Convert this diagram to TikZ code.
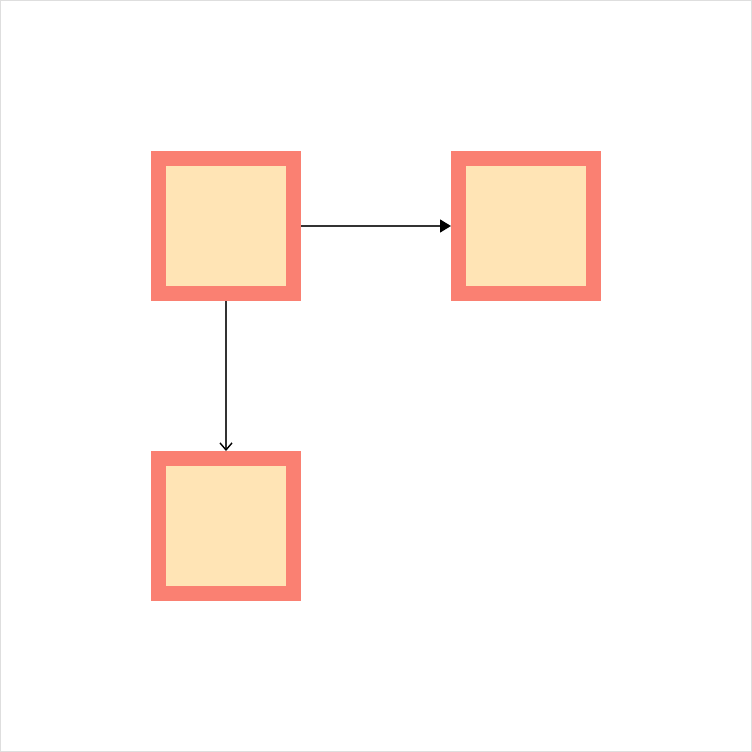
\documentclass[tikz,border=0pt]{standalone}
\usetikzlibrary{arrows.meta}
\definecolor{boxline}{HTML}{FA8072}
\definecolor{boxfill}{HTML}{FFE4B5}
\tikzset{
  box/.style={draw=boxline, fill=boxfill, line width=15pt, minimum size=135pt, inner sep=0pt},
  link/.style={draw=black!80, line width=1.4pt}
}
\begin{document}
\begin{tikzpicture}[x=1pt, y=-1pt]
      \draw[draw=black!13, line width=1pt] (0.5,0.5) rectangle (751.5,751.5);
      \node[box] (topleft) at (226,226) {};
      \node[box] (topright) at (526,226) {};
      \node[box] (bottomleft) at (226,526) {};
      \draw[link, -{Triangle[length=11pt, width=13pt, color=black]}] (topleft) -- (topright);
      \draw[link, -{Straight Barb[length=7pt, width=12pt, color=black]}] (topleft) -- (bottomleft);
    \end{tikzpicture}
\end{document}
